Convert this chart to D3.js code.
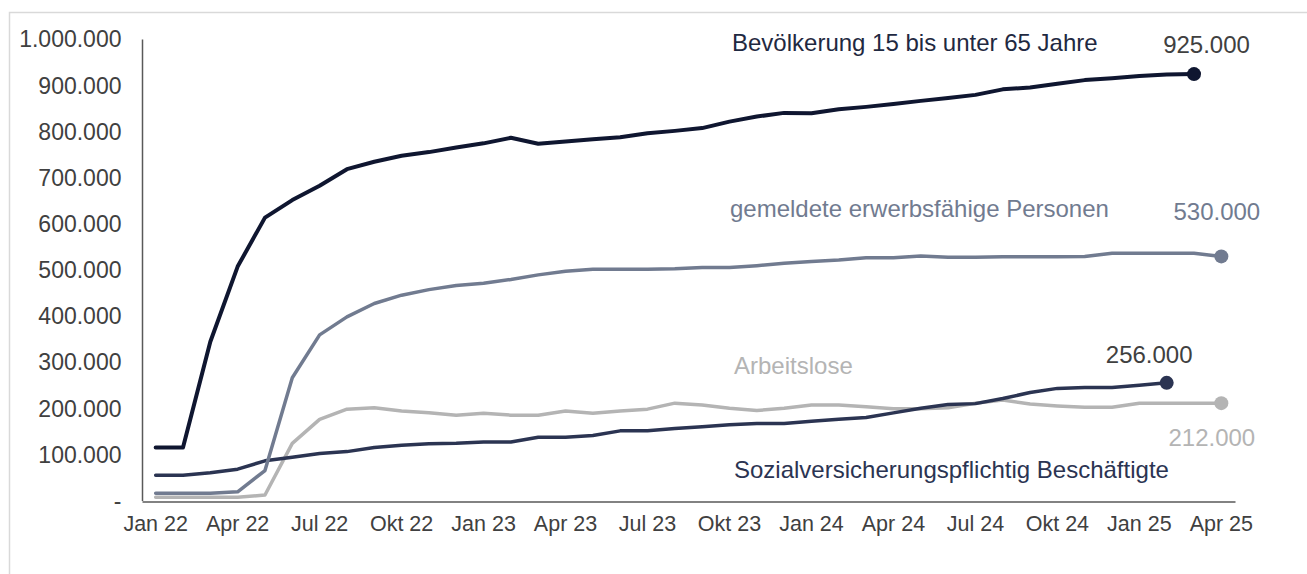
<!DOCTYPE html>
<meta charset="utf-8">
<style>
body { margin: 0; background: #fff; }
text { font-family: "Liberation Sans", Arial, sans-serif; }
.axis path { stroke: #595959; stroke-width: 1.5px; }
.axis text { fill: #404040; }
</style>
<body>
<svg width="1307" height="574"></svg>
<script src="https://d3js.org/d3.v7.min.js"></script>
<script>

// months Jan 22 .. Apr 25
var months = ["Jan 22","Feb 22","Mär 22","Apr 22","Mai 22","Jun 22","Jul 22","Aug 22","Sep 22","Okt 22","Nov 22","Dez 22",
  "Jan 23","Feb 23","Mär 23","Apr 23","Mai 23","Jun 23","Jul 23","Aug 23","Sep 23","Okt 23","Nov 23","Dez 23",
  "Jan 24","Feb 24","Mär 24","Apr 24","Mai 24","Jun 24","Jul 24","Aug 24","Sep 24","Okt 24","Nov 24","Dez 24",
  "Jan 25","Feb 25","Mär 25","Apr 25"];

var yTicks = [0, 100000, 200000, 300000, 400000, 500000, 600000, 700000, 800000, 900000, 1000000];

var bevoelkerung = [116000,116000,345000,508000,614000,652000,683000,719000,735000,748000,
  756000,766000,775000,787000,774000,779000,784000,788000,797000,802000,
  808000,822000,833000,841000,840000,849000,854000,860000,867000,873000,
  880000,892000,896000,904000,912000,916000,921000,924000,925000];

var personen = [17000,17000,17000,20000,66000,267000,360000,399000,428000,446000,
  458000,467000,472000,480000,490000,498000,502000,502000,502000,503000,
  506000,506000,510000,515000,519000,522000,527000,527000,531000,528000,
  528000,529000,529000,529000,530000,537000,537000,537000,537000,530000];

var arbeitslose = [8000,8000,8000,8000,13000,125000,177000,199000,202000,195000,
  191000,186000,190000,186000,186000,195000,190000,195000,199000,212000,
  208000,201000,196000,201000,208000,208000,204000,200000,200000,202000,
  212000,219000,210000,206000,203000,203000,212000,212000,212000,212000];

var sozial = [56000,56000,61000,69000,87000,95000,103000,107000,116000,121000,
  124000,125000,128000,128000,138000,138000,142000,152000,152000,157000,
  161000,165000,168000,168000,173000,177000,181000,191000,201000,209000,
  211000,222000,235000,244000,246000,246000,251000,256000];

var series = [
  { name: "Arbeitslose", values: arbeitslose, color: "#b4b4b4", width: 3.5 },
  { name: "Sozialversicherungspflichtig Beschäftigte", values: sozial, color: "#2b3452", width: 3.5 },
  { name: "gemeldete erwerbsfähige Personen", values: personen, color: "#717b90", width: 3.5 },
  { name: "Bevölkerung 15 bis unter 65 Jahre", values: bevoelkerung, color: "#0f1630", width: 4 }
];

var svg = d3.select("svg");

// outer frame
svg.append("rect")
    .attr("x", 9.5).attr("y", 12.5)
    .attr("width", 1320).attr("height", 600)
    .attr("fill", "none")
    .attr("stroke", "#d9d9d9")
    .attr("stroke-width", 1.5);

var x = d3.scaleBand().domain(months).range([142, 1235]).padding(0);
var y = d3.scaleLinear().domain([0, 1000000]).range([501, 39.5]);
var px = function(i) { return x(months[i]) + x.bandwidth() / 2; };

var de = d3.formatLocale({ decimal: ",", thousands: ".", grouping: [3], currency: ["", " €"] });
var fmt = de.format(",");

var yAxis = svg.append("g")
    .attr("class", "axis")
    .attr("transform", "translate(142.5,0)")
    .call(d3.axisLeft(y).tickValues(yTicks).tickSize(0).tickSizeOuter(0).tickPadding(21)
      .tickFormat(function(d) { return d === 0 ? "-" : fmt(d); }));
yAxis.selectAll("text").style("font-size", "23px");
yAxis.select(".domain").attr("d", "M0," + y(1000000) + "V" + y(0));

var xAxis = svg.append("g")
    .attr("class", "axis")
    .attr("transform", "translate(0," + (y(0) + 0.5) + ")")
    .call(d3.axisBottom(x).tickValues(months.filter(function(d, i) { return i % 3 === 0; }))
      .tickSize(0).tickSizeOuter(0).tickPadding(14));
xAxis.selectAll("text").style("font-size", "21.5px");

var line = d3.line()
    .x(function(d, i) { return px(i); })
    .y(function(d) { return y(d); });

series.forEach(function(s) {
  svg.append("path")
      .datum(s.values)
      .attr("fill", "none")
      .attr("stroke", s.color)
      .attr("stroke-width", s.width)
      .attr("stroke-linejoin", "round")
      .attr("stroke-linecap", "round")
      .attr("d", line);
  var last = s.values.length - 1;
  svg.append("circle")
      .attr("cx", px(last))
      .attr("cy", y(s.values[last]))
      .attr("r", 7)
      .attr("fill", s.color);
});

// value labels near end markers
function endLabel(values, dx, dy, color) {
  var last = values.length - 1;
  svg.append("text")
      .attr("x", px(last) + dx)
      .attr("y", y(values[last]) + dy)
      .attr("text-anchor", "middle")
      .attr("fill", color)
      .style("font-size", "24px")
      .text(fmt(values[last]));
}
endLabel(bevoelkerung, 12.5, -21, "#404040");
endLabel(personen, -4.5, -36, "#717b90");
endLabel(sozial, -17.5, -20, "#404040");
endLabel(arbeitslose, -9.5, 43, "#b4b4b4");

// series names
var names = [
  { text: "Bevölkerung 15 bis unter 65 Jahre", x: 732, y: 51, color: "#1f2941" },
  { text: "gemeldete erwerbsfähige Personen", x: 730, y: 217, color: "#717b90" },
  { text: "Arbeitslose", x: 734, y: 374, color: "#b4b4b4" },
  { text: "Sozialversicherungspflichtig Beschäftigte", x: 734, y: 478, color: "#2b3452" }
];
svg.selectAll("text.name")
  .data(names)
  .enter().append("text")
    .attr("class", "name")
    .attr("x", function(d) { return d.x; })
    .attr("y", function(d) { return d.y; })
    .attr("fill", function(d) { return d.color; })
    .style("font-size", "24px")
    .text(function(d) { return d.text; });

</script>
</body>
